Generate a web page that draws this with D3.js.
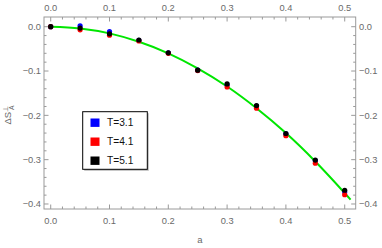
<!DOCTYPE html>
<html><head><meta charset="utf-8">
<script src="https://cdn.jsdelivr.net/npm/d3@7"></script>
<style>body{margin:0;background:#fff}svg{display:block}text{font-family:"Liberation Sans",Arial,sans-serif}</style>
</head><body><svg id="c" width="382" height="248"></svg>
<script>
const aVals = [0, 0.05, 0.1, 0.15, 0.2, 0.25, 0.3, 0.35, 0.4, 0.45, 0.5];
const seriesT31 = [0, 0.002, -0.011, -0.031, -0.059, -0.098, -0.131, -0.179, -0.242, -0.302, -0.373];
const seriesT41 = [0, -0.007, -0.019, -0.032, -0.060, -0.099, -0.136, -0.184, -0.246, -0.308, -0.379];
const seriesT51 = [0, -0.003, -0.016, -0.030, -0.059, -0.098, -0.129, -0.178, -0.241, -0.301, -0.369];
const fitA = [0, 0.05, 0.1, 0.15, 0.2, 0.25, 0.3, 0.35, 0.4, 0.45, 0.51];
const fitV = [0, -0.004, -0.015, -0.034, -0.060, -0.094, -0.135, -0.184, -0.240, -0.304, -0.390];
const legendLabels = ["T=3.1", "T=4.1", "T=5.1"];
const colors = ["#0000ff", "#ff0000", "#000000"];
const xTicks = [0, 0.1, 0.2, 0.3, 0.4, 0.5];
const yTicks = [0, -0.1, -0.2, -0.3, -0.4];

const svg = d3.select("#c");
const L = 44, R = 355.7, T = 17, B = 209;
const x = d3.scaleLinear().domain([-0.0114, 0.5187]).range([L, R]);
const y = d3.scaleLinear().domain([-0.4113, 0.0219]).range([B, T]);
const frameCol = "#9a9a9a", labCol = "#6a6a6a";

svg.append("rect").attr("x", L).attr("y", T).attr("width", R - L).attr("height", B - T)
  .attr("fill", "none").attr("stroke", frameCol).attr("stroke-width", 1);

const xMinor = d3.range(0, 0.52, 0.02).filter(v => v <= 0.5187);
const yMinor = d3.range(0, -0.42, -0.02).filter(v => v >= -0.4113);
const g = svg.append("g").attr("stroke", frameCol).attr("stroke-width", 1);
xMinor.forEach((v, i) => {
  const len = (i % 5 === 0) ? 4.5 : 2.5;
  const px = x(v);
  g.append("line").attr("x1", px).attr("x2", px).attr("y1", B).attr("y2", B - len);
  g.append("line").attr("x1", px).attr("x2", px).attr("y1", T).attr("y2", T + len);
});
yMinor.forEach((v, i) => {
  const len = (i % 5 === 0) ? 4.5 : 2.5;
  const py = y(v);
  g.append("line").attr("y1", py).attr("y2", py).attr("x1", L).attr("x2", L + len);
  g.append("line").attr("y1", py).attr("y2", py).attr("x1", R).attr("x2", R - len);
});
const fmt = d3.format(".1f");
const f = v => fmt(v).replace("-", "\u2212");
xTicks.forEach(v => {
  svg.append("text").attr("x", x(v)).attr("y", 224).attr("text-anchor", "middle")
    .attr("font-size", 9.3).attr("fill", labCol).text(f(v));
  svg.append("text").attr("x", x(v)).attr("y", 10.5).attr("text-anchor", "middle")
    .attr("font-size", 9.3).attr("fill", labCol).text(f(v));
});
yTicks.forEach(v => {
  svg.append("text").attr("x", 41).attr("y", y(v) + 3.3).attr("text-anchor", "end")
    .attr("font-size", 9.3).attr("fill", labCol).text(f(v));
  svg.append("text").attr("x", 359).attr("y", y(v) + 3.3).attr("text-anchor", "start")
    .attr("font-size", 9.3).attr("fill", labCol).text(f(v));
});

svg.append("text").attr("x", 200).attr("y", 243).attr("text-anchor", "middle")
  .attr("font-size", 9.5).attr("fill", labCol).text("a");
const yl = svg.append("text").attr("transform", "translate(11,115) rotate(-90)")
  .attr("text-anchor", "middle").attr("font-size", 9.5).attr("fill", labCol);
yl.append("tspan").text("ΔS");
yl.append("tspan").attr("font-size", 6.8).attr("dy", -3.5).text("⊥");
yl.append("tspan").attr("font-size", 6.8).attr("dx", -4).attr("dy", 6.5).text("A");

const line = d3.line().x(d => x(d[0])).y(d => y(d[1])).curve(d3.curveMonotoneX);
svg.append("path").datum(fitA.map((a, i) => [a, fitV[i]])).attr("d", line)
  .attr("fill", "none").attr("stroke", "#00e600").attr("stroke-width", 2);

[seriesT31, seriesT41, seriesT51].forEach((s, k) => {
  svg.append("g").selectAll("circle").data(s).join("circle")
    .attr("cx", (d, i) => x(aVals[i])).attr("cy", d => y(d)).attr("r", 2.6)
    .attr("fill", colors[k]);
});

const lx = 82.7, ly = 111.7, lw = 64.6, lh = 57.6;
svg.append("rect").attr("x", lx + 1.5).attr("y", ly + 1.5).attr("width", lw).attr("height", lh)
  .attr("fill", "#bbb");
svg.append("rect").attr("x", lx).attr("y", ly).attr("width", lw).attr("height", lh)
  .attr("fill", "#fff").attr("stroke", "#000").attr("stroke-width", 1);
const rowY = [122.7, 141.7, 160.7];
legendLabels.forEach((t, i) => {
  svg.append("rect").attr("x", 90.5).attr("y", rowY[i] - 4.2).attr("width", 9).attr("height", 8.4)
    .attr("fill", colors[i]);
  svg.append("text").attr("x", 107).attr("y", rowY[i] + 3.6).attr("font-size", 10.2)
    .attr("fill", "#111").text(t);
});
</script></body></html>
